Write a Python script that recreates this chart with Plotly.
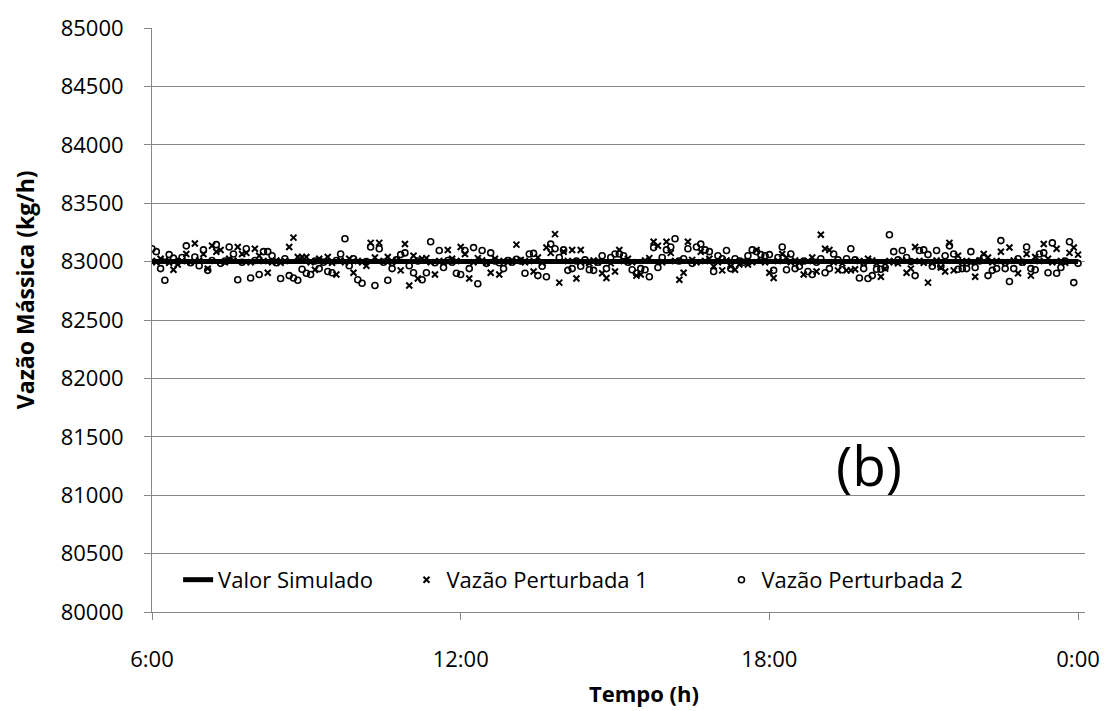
import plotly.graph_objects as go

# Sampling: one reading every 5 minutes from 6:00 to 0:00 (217 readings)
INICIO_H = 6.0
PASSO_MIN = 5

# Vazão Perturbada 1 (kg/h)
vazao_p1 = [
    83005, 82995, 83025, 83010, 82990, 82930, 82975, 83005, 83065, 82995,
    83155, 83010, 83065, 82940, 83135, 83085, 83100, 82995, 83025, 83010,
    83125, 83065, 83075, 82995, 83110, 83050, 83005, 82905, 82995, 83010,
    82990, 83005, 83125, 83205, 83040, 83040, 83040, 82995, 82930, 83025,
    83005, 83040, 82990, 82890, 83010, 82995, 83025, 82905, 83005, 82995,
    82965, 83160, 83035, 83160, 83005, 83040, 82995, 83010, 82925, 83150,
    82795, 83050, 82855, 83025, 83030, 82995, 82890, 83005, 82990, 83100,
    83025, 83005, 83125, 83065, 82855, 82995, 83030, 83010, 82990, 82905,
    83025, 82890, 83005, 82995, 83010, 83145, 83015, 82995, 83005, 82915,
    83035, 82990, 83120, 83075, 83235, 82820, 83085, 83005, 83100, 82855,
    83100, 82995, 82985, 83010, 82995, 82900, 82860, 82985, 82915, 83100,
    83005, 83025, 82995, 82880, 82890, 83010, 83030, 83170, 83135, 82995,
    83170, 83075, 83005, 82845, 82905, 83170, 83015, 82995, 83085, 83005,
    83025, 82960, 82995, 82925, 83010, 82960, 82930, 82975, 83005, 82975,
    82995, 83100, 83010, 82995, 82905, 82860, 83005, 83065, 83035, 82995,
    83010, 82990, 82890, 83005, 83035, 82915, 83230, 83110, 83100, 82995,
    82925, 82985, 82925, 82925, 82935, 83005, 82990, 83025, 83010, 82985,
    82870, 82940, 83005, 82995, 82985, 83010, 82905, 82940, 83125, 83005,
    82990, 82820, 82985, 83010, 82950, 82915, 83160, 82925, 83050, 82995,
    83005, 82990, 82870, 83010, 83065, 83035, 82995, 83005, 83085, 82995,
    83120, 83010, 82900, 82995, 83065, 82880, 83040, 83005, 83150, 83025,
    82995, 83110, 83005, 82990, 83075, 83120, 83060,
]

# Vazão Perturbada 2 (kg/h)
vazao_p2 = [
    83110, 83085, 82940, 82840, 83060, 83030, 83000, 83035, 83135, 82990,
    83040, 82965, 83100, 82925, 83010, 83145, 82985, 83005, 83125, 83065,
    82845, 82995, 83110, 82860, 83010, 82890, 83085, 83085, 83050, 82990,
    82855, 83025, 82880, 82860, 82840, 82935, 82900, 82890, 83005, 82940,
    82995, 82915, 82905, 83010, 83065, 83195, 82965, 83025, 82845, 82815,
    83000, 83125, 82795, 83110, 82995, 82840, 82940, 83015, 83060, 83075,
    82965, 82905, 83005, 82845, 82905, 83170, 82990, 83095, 82950, 83010,
    82995, 82900, 82890, 83095, 82940, 83120, 82810, 83095, 82985, 83075,
    83005, 82990, 82940, 83010, 82995, 83020, 83005, 82900, 83065, 83070,
    82880, 82960, 82870, 83150, 83110, 83035, 83100, 82925, 82940, 83005,
    82960, 83015, 82930, 82925, 82995, 83050, 82940, 83035, 83065, 83065,
    83050, 82995, 82930, 82900, 82940, 82930, 82870, 83120, 82950, 83035,
    83100, 83125, 83195, 83005, 83025, 83110, 82985, 83125, 83150, 83100,
    83085, 82915, 83050, 83025, 83095, 82940, 83025, 83005, 82995, 83050,
    83100, 83085, 83060, 83050, 83060, 82925, 83035, 83125, 82930, 83065,
    82940, 82960, 83005, 82915, 82890, 82995, 83025, 82905, 82940, 83065,
    83015, 82930, 83025, 83110, 83015, 82860, 82940, 82855, 82880, 82935,
    82935, 82950, 83230, 83085, 83015, 83095, 83035, 83000, 82880, 83095,
    83100, 83060, 82960, 83095, 82960, 83050, 83135, 83065, 82935, 82940,
    82940, 83085, 82950, 83005, 83035, 82880, 82925, 82940, 83180, 82940,
    82830, 82940, 83025, 82995, 83125, 82940, 82930, 83065, 83075, 82905,
    83160, 82900, 82950, 83005, 83170, 82820, 82985,
]

# Valor Simulado: constant set point over the whole period
sim_tempo_h = [6.0, 24.0]
sim_valor = [83000, 83000]

# Axis ticks
x_ticks = [6, 12, 18, 24]
x_labels = ["6:00", "12:00", "18:00", "0:00"]
y_ticks = [80000, 80500, 81000, 81500, 82000, 82500, 83000, 83500, 84000, 84500, 85000]
y_labels = [str(v) for v in y_ticks]

tempo_h = [INICIO_H + i * PASSO_MIN / 60 for i in range(len(vazao_p1))]

FONT = "Open Sans"
GRID = "#878787"
PAD = "\u00a0"

fig = go.Figure()

fig.add_trace(go.Scatter(
    x=sim_tempo_h, y=sim_valor, mode="lines", name="Valor Simulado" + PAD * 5,
    line=dict(color="black", width=5),
))
fig.add_trace(go.Scatter(
    x=tempo_h, y=vazao_p1, mode="markers", name="Vazão Perturbada 1" + PAD * 12,
    marker=dict(symbol="x-thin", size=6, color="black",
                line=dict(color="black", width=2)),
))
fig.add_trace(go.Scatter(
    x=tempo_h, y=vazao_p2, mode="markers", name="Vazão Perturbada 2",
    marker=dict(symbol="circle-open", size=6, color="black",
                line=dict(color="black", width=1.6)),
))

fig.update_layout(
    width=1112, height=711,
    margin=dict(l=152, r=23, t=25, b=99),
    paper_bgcolor="white", plot_bgcolor="white",
    font=dict(family=FONT, size=22, color="black"),
    showlegend=True,
    legend=dict(
        orientation="h", x=0.028, y=0.055, xanchor="left", yanchor="middle",
        bgcolor="rgba(255,255,255,0)", font=dict(size=22),
        itemsizing="trace",
    ),
    xaxis=dict(
        range=[6, 24.135], tickvals=x_ticks, ticktext=x_labels,
        showgrid=False, zeroline=False,
        showline=True, linecolor=GRID, linewidth=1,
        ticks="outside", ticklen=7, tickcolor=GRID, ticklabelstandoff=21,
        tickfont=dict(size=22),
    ),
    yaxis=dict(
        range=[80000, 85000], tickvals=y_ticks, ticktext=y_labels,
        showgrid=True, gridcolor=GRID, gridwidth=1, zeroline=False,
        showline=True, linecolor=GRID, linewidth=1,
        ticks="outside", ticklen=7, tickcolor=GRID, ticklabelstandoff=16,
        tickfont=dict(size=22),
    ),
    annotations=[
        dict(text="<b>Vazão Mássica (kg/h)</b>", xref="paper", yref="paper",
             x=-0.1366, y=0.552, textangle=-90, showarrow=False,
             font=dict(size=23), xanchor="center", yanchor="middle"),
        dict(text="<b>Tempo (h)</b>", xref="paper", yref="paper",
             x=0.527, y=-0.138, showarrow=False,
             font=dict(size=22), xanchor="center", yanchor="middle"),
        dict(text="(b)", xref="paper", yref="paper",
             x=0.769, y=0.253, showarrow=False,
             font=dict(size=55), xanchor="center", yanchor="middle"),
    ],
)

fig.write_html("out.html")
